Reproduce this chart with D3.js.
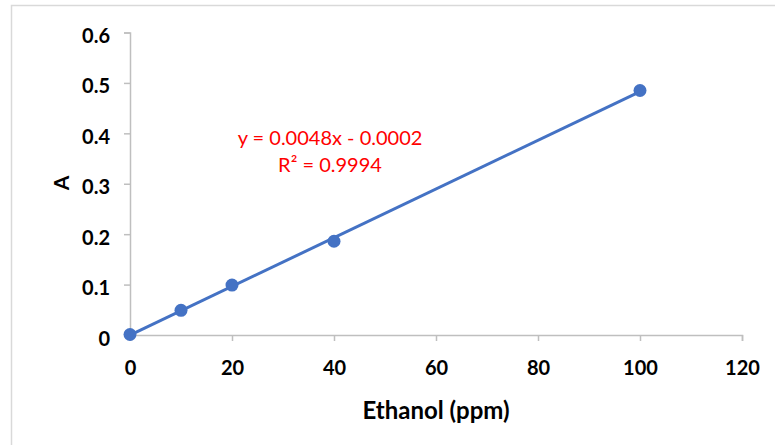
<!DOCTYPE html>
<html>
<head>
<meta charset="utf-8">
<script src="https://cdn.jsdelivr.net/npm/d3@7"></script>
<style>
  html, body { margin: 0; padding: 0; background: #fff; }
  svg { display: block; }
</style>
</head>
<body>
<svg id="chart" width="775" height="445"></svg>
<script>
// data
var ethanolPpm = [0, 10, 20, 40, 100];
var absorbance = [0.001, 0.049, 0.099, 0.186, 0.485];
var xTicks = [0, 20, 40, 60, 80, 100, 120];
var yTicks = [0, 0.1, 0.2, 0.3, 0.4, 0.5, 0.6];
var equationLines = ["y = 0.0048x - 0.0002", "R\u00b2 = 0.9994"];

var svg = d3.select("#chart");
var blue = "#4472C4";
var axisGrey = "#bfbfbf";
var font = "Lato, 'Open Sans', sans-serif";

// chart area frame (only the top and left edges are in view)
svg.append("path")
    .attr("d", "M11.5,445 L11.5,5.5 L775,5.5")
    .attr("fill", "none")
    .attr("stroke", "#d9d9d9")
    .attr("stroke-width", 1.5);

var x = d3.scaleLinear().domain([0, 120]).range([130, 742]);
var y = d3.scaleLinear().domain([0, 0.6]).range([335, 32.5]);

// y axis
var yAxis = svg.append("g")
    .attr("transform", "translate(" + x(0) + ",0)")
    .call(d3.axisLeft(y).tickValues(yTicks).tickSize(6).tickPadding(14)
        .tickFormat(function (d) { return d === 0 ? "0" : d3.format(".1f")(d); }));

// x axis
var xAxis = svg.append("g")
    .attr("transform", "translate(0," + y(0) + ")")
    .call(d3.axisBottom(x).tickValues(xTicks).tickSize(6).tickPadding(14)
        .tickFormat(d3.format("d")));

[yAxis, xAxis].forEach(function (ax) {
    ax.select(".domain").attr("stroke", axisGrey).attr("stroke-width", 1.5);
    ax.selectAll(".tick line").attr("stroke", axisGrey).attr("stroke-width", 1.5);
    ax.selectAll(".tick text")
        .attr("fill", "#000")
        .attr("font-family", font)
        .attr("font-weight", "bold")
        .attr("font-size", 20);
});
yAxis.selectAll(".tick text").attr("dy", "0.5em");
xAxis.selectAll(".tick text").attr("dy", "1.02em");

// linear trendline (least squares over the points)
var mx = d3.mean(ethanolPpm), my = d3.mean(absorbance);
var sxy = d3.sum(ethanolPpm, function (v, i) { return (v - mx) * (absorbance[i] - my); });
var sxx = d3.sum(ethanolPpm, function (v) { return (v - mx) * (v - mx); });
var slope = sxy / sxx;
var intercept = my - slope * mx;
var xExt = d3.extent(ethanolPpm);

svg.append("path")
    .datum(xExt)
    .attr("fill", "none")
    .attr("stroke", blue)
    .attr("stroke-width", 3)
    .attr("d", d3.line()
        .x(function (d) { return x(d); })
        .y(function (d) { return y(slope * d + intercept); }));

// markers
svg.append("g")
    .selectAll("circle")
    .data(ethanolPpm)
    .enter().append("circle")
    .attr("cx", function (d) { return x(d); })
    .attr("cy", function (d, i) { return y(absorbance[i]); })
    .attr("r", 6.5)
    .attr("fill", blue);

// equation label
svg.append("g")
    .selectAll("text")
    .data(equationLines)
    .enter().append("text")
    .attr("x", 330)
    .attr("y", function (d, i) { return 145 + i * 26.5; })
    .attr("text-anchor", "middle")
    .attr("fill", "#ff0000")
    .attr("font-family", font)
    .attr("font-size", 20)
    .text(function (d) { return d; });

// axis titles
svg.append("text")
    .attr("transform", "translate(69,183) rotate(-90)")
    .attr("text-anchor", "middle")
    .attr("font-family", font)
    .attr("font-weight", "bold")
    .attr("font-size", 21)
    .text("A");

svg.append("text")
    .attr("x", 436)
    .attr("y", 419)
    .attr("text-anchor", "middle")
    .attr("font-family", font)
    .attr("font-weight", "bold")
    .attr("font-size", 24)
    .text("Ethanol (ppm)");
</script>
</body>
</html>
